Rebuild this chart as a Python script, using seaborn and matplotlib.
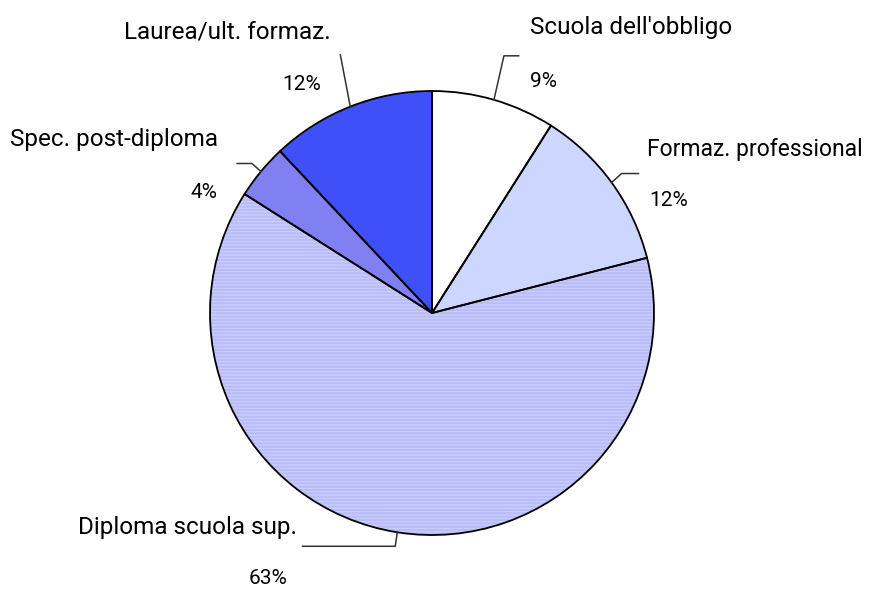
import numpy as np
import matplotlib
matplotlib.use("Agg")
import matplotlib.pyplot as plt
import seaborn as sns

# ── Data ────────────────────────────────────────────────────
labels = ["Scuola dell'obbligo", "Formaz. professional", "Diploma scuola sup.",
          "Spec. post-diploma", "Laurea/ult. formaz."]
shares = [9, 12, 63, 4, 12]
pct_labels = ["9%", "12%", "63%", "4%", "12%"]
colors = ["#ffffff", "#ccd6ff", "#b8bcf8", "#8080f2", "#4050f8"]

sns.set_theme(style="white")
plt.rcParams["font.family"] = ["Roboto", "DejaVu Sans"]

W, H = 871, 589
fig = plt.figure(figsize=(W / 100, H / 100), dpi=100)
ax = fig.add_axes([0, 0, 1, 1])

cx, cy, r = 432, H - 313, 222
pie_kw = dict(startangle=90, counterclock=False, center=(cx, cy), radius=r, frame=True)

# fills
wedges, _ = ax.pie(shares, colors=colors, wedgeprops=dict(linewidth=0, zorder=1), **pie_kw)

# faint horizontal streaks on the big slice only
streak, _ = ax.pie(shares, colors=["none"] * len(shares),
                   wedgeprops=dict(edgecolor="#c9ccfb", linewidth=0, zorder=2), **pie_kw)
for i, w in enumerate(streak):
    if i == 2:
        w.set_hatch("-----")
    else:
        w.remove()

# outlines on top
ax.pie(shares, colors=["none"] * len(shares),
       wedgeprops=dict(edgecolor="black", linewidth=1.3, zorder=3), **pie_kw)

ax.set_xlim(0, W)
ax.set_ylim(0, H)
ax.set_aspect("equal")
ax.axis("off")

# leader layout per slice: elbow offset, horizontal run, text anchors
layout = [
    dict(elbow=(10, 44), run=15, name=(36, 72, "left"), pct=(36, 18, "left"), fs=17.5),
    dict(elbow=(10, 9), run=17, name=(35, 33, "left"), pct=(38, -18, "left"), fs=16.5),
    dict(elbow=(-2, -14), run=-93, name=(-100, 5, "right"), pct=(-129, -46, "center"), fs=17.5),
    dict(elbow=(-9, 8), run=-15, name=(-43, 32, "right"), pct=(-44, -21, "right"), fs=17.5),
    dict(elbow=(-10, 52), run=0, name=(-20, 75, "right"), pct=(-49, 22, "center"), fs=17.5),
]

for w, name, pct, lay in zip(wedges, labels, pct_labels, layout):
    ang = np.deg2rad((w.theta1 + w.theta2) / 2)
    x0, y0 = cx + r * np.cos(ang), cy + r * np.sin(ang)
    x1, y1 = x0 + lay["elbow"][0], y0 + lay["elbow"][1]
    x2 = x1 + lay["run"]
    ax.plot([x0, x1, x2], [y0, y1, y1], color="#333333", lw=1.1, zorder=4)
    nx, ny, nha = lay["name"]
    ax.text(x0 + nx, y0 + ny, name, ha=nha, va="center", fontsize=lay["fs"], color="black")
    px, py, pha = lay["pct"]
    ax.text(x0 + px, y0 + py, pct, ha=pha, va="center", fontsize=15, color="black")

fig.savefig("out.png", dpi=100)
